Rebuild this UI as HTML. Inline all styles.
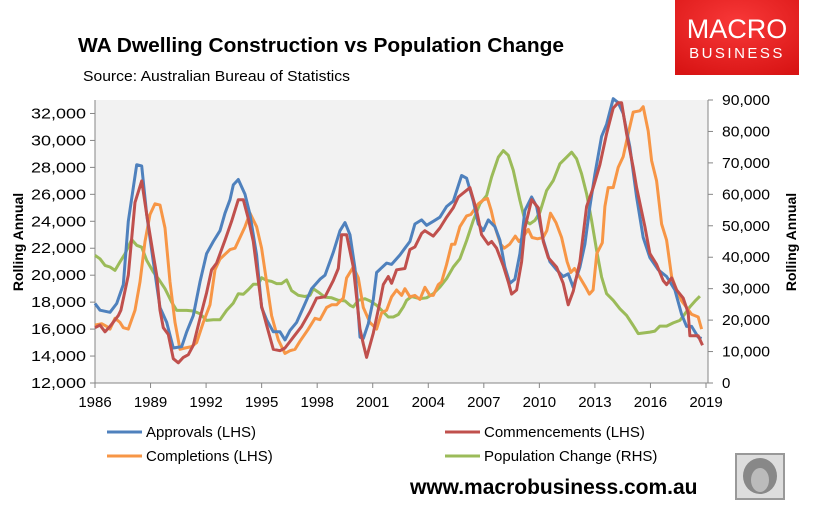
<!DOCTYPE html>
<html><head><meta charset="utf-8">
<style>
body{margin:0;background:#fff;width:819px;height:517px;overflow:hidden;font-family:"Liberation Sans",sans-serif;}
svg{position:absolute;left:0;top:0}
</style></head>
<body>
<svg id="chart" width="819" height="517" viewBox="0 0 819 517">
<text x="78" y="52" font-size="20.5" font-weight="bold" fill="#000" textLength="486" lengthAdjust="spacingAndGlyphs">WA Dwelling Construction vs Population Change</text>
<text x="83" y="81" font-size="14.5" fill="#000" textLength="267" lengthAdjust="spacingAndGlyphs">Source: Australian Bureau of Statistics</text>
<g>
<defs><radialGradient id="lg" cx="0.5" cy="0.3" r="0.8"><stop offset="0" stop-color="#f83838"/><stop offset="1" stop-color="#d81414"/></radialGradient></defs>
<rect x="675" y="0" width="124" height="75" fill="url(#lg)"/>
<text x="737" y="38" font-size="27" fill="#fff" text-anchor="middle">MACRO</text>
<text x="737" y="58" font-size="15" fill="#fff" text-anchor="middle" letter-spacing="2.5">BUSINESS</text>
</g>
<rect x="95" y="100" width="613" height="283" fill="#f2f2f2"/>
<g id="axes"></g>
<g id="series"></g>
<text transform="translate(23,242) rotate(-90)" font-size="14" font-weight="bold" text-anchor="middle">Rolling Annual</text>
<text transform="translate(796,242) rotate(-90)" font-size="14" font-weight="bold" text-anchor="middle">Rolling Annual</text>
<g id="legend"></g>
<text x="410" y="494" font-size="21" font-weight="bold" fill="#000">www.macrobusiness.com.au</text>
<g>
<rect x="736" y="454" width="48" height="45" fill="#ddd" stroke="#999" stroke-width="2"/>
<ellipse cx="760" cy="476" rx="17" ry="18" fill="#888"/>
<ellipse cx="760" cy="480" rx="9" ry="12" fill="#bbb"/>
</g>
</svg>
<script>
const NS="http://www.w3.org/2000/svg";
const leftTicks=[12000,14000,16000,18000,20000,22000,24000,26000,28000,30000,32000];
const rightTicks=[0,10000,20000,30000,40000,50000,60000,70000,80000,90000];
const xTicks=[1986,1989,1992,1995,1998,2001,2004,2007,2010,2013,2016,2019];
const approvalsYears=[1986,1986.27,1986.81,1987.17,1987.53,1987.8,1988.25,1988.52,1988.79,1989.15,1989.51,1989.87,1990.23,1990.68,1990.95,1991.31,1991.67,1992.03,1992.39,1992.75,1993.02,1993.29,1993.47,1993.74,1994.1,1994.37,1994.73,1995.0,1995.27,1995.63,1995.99,1996.26,1996.53,1996.89,1997.25,1997.7,1998.15,1998.42,1998.87,1999.23,1999.5,1999.77,2000.04,2000.31,2000.49,2000.76,2001.03,2001.21,2001.75,2002.02,2002.47,2002.74,2003.01,2003.28,2003.64,2003.91,2004.27,2004.63,2004.99,2005.35,2005.8,2006.07,2006.43,2006.7,2006.97,2007.24,2007.6,2007.87,2008.14,2008.41,2008.68,2008.95,2009.22,2009.58,2009.85,2010.21,2010.57,2010.93,2011.29,2011.56,2011.83,2012.19,2012.46,2012.73,2013.0,2013.36,2013.63,2013.99,2014.26,2014.53,2014.89,2015.25,2015.61,2015.97,2016.42,2016.87,2017.32,2017.68,2017.95,2018.22,2018.58,2018.76];
const approvalsValues=[17900,17400,17250,17900,19300,24000,28200,28100,24500,21000,17600,16500,14600,14700,15800,17000,19500,21600,22500,23300,24600,25600,26700,27100,26000,24500,21500,17600,16700,15800,15800,15200,15900,16500,17600,19000,19700,20000,21700,23300,23900,23000,20500,15400,15300,16400,18200,20200,20900,20800,21500,22000,22500,23800,24100,23700,24000,24300,25100,25500,27400,27200,25500,23800,23300,24100,23600,22600,20600,19400,19700,21600,24800,25800,25100,22600,21000,20400,19900,20100,19100,20600,22300,25100,27500,30300,31200,33100,32800,32000,29500,25800,22800,21300,20400,19900,18900,17100,16200,16200,15400,15300];
const commencementsYears=[1986,1986.27,1986.54,1986.81,1987.26,1987.4,1987.8,1988.16,1988.52,1988.79,1989.15,1989.33,1989.51,1989.69,1989.96,1990.23,1990.5,1990.77,1991.04,1991.31,1991.67,1992.03,1992.3,1992.57,1993.02,1993.38,1993.74,1994.01,1994.28,1994.55,1995.0,1995.27,1995.63,1995.99,1996.26,1996.71,1997.16,1997.61,1997.97,1998.42,1998.87,1999.14,1999.32,1999.59,1999.95,2000.31,2000.49,2000.67,2001.03,2001.39,2001.57,2001.84,2002.02,2002.29,2002.74,2003.01,2003.28,2003.64,2003.82,2004.27,2004.63,2004.99,2005.35,2005.62,2006.07,2006.25,2006.61,2006.88,2007.24,2007.42,2007.69,2008.05,2008.32,2008.5,2008.77,2009.04,2009.22,2009.58,2009.94,2010.21,2010.48,2010.93,2011.29,2011.56,2011.83,2012.19,2012.55,2012.91,2013.27,2013.63,2013.99,2014.26,2014.44,2014.71,2015.07,2015.25,2015.7,2015.97,2016.33,2016.69,2016.87,2017.14,2017.41,2017.77,2018.04,2018.13,2018.4,2018.58,2018.81];
const commencementsValues=[16100,16300,15800,16200,17000,17400,20000,25400,27000,24500,21500,20000,17400,16100,15600,13800,13500,13900,14100,14800,16800,18700,20400,20900,22600,24000,25600,25600,24200,22500,17700,16300,14500,14400,14600,15400,16200,17300,18300,18400,19600,20500,23000,23000,20600,16000,14900,13900,15700,18000,19300,19900,19400,20400,20500,21900,22100,23100,23300,22900,23500,24300,25000,25800,26300,26500,24800,23000,22300,22500,22000,20700,19500,18600,18900,21000,23500,25600,25000,22500,21300,20600,19400,17800,18800,21000,25100,26500,28200,30500,32400,32800,32800,30500,28000,26500,23600,21600,20800,19600,19300,19800,18900,18300,17200,15500,15500,15500,14800];
const completionsYears=[1986,1986.36,1986.63,1986.81,1987.08,1987.35,1987.53,1987.8,1988.16,1988.43,1988.7,1988.97,1989.24,1989.51,1989.78,1990.05,1990.32,1990.59,1990.86,1991.22,1991.49,1991.85,1992.21,1992.48,1992.75,1993.29,1993.56,1993.83,1994.1,1994.37,1994.73,1995.0,1995.27,1995.54,1995.9,1996.26,1996.53,1996.8,1997.07,1997.52,1997.88,1998.15,1998.51,1998.78,1999.05,1999.41,1999.59,1999.95,2000.22,2000.49,2000.85,2001.21,2001.48,2001.75,2002.02,2002.29,2002.56,2002.74,2003.01,2003.28,2003.55,2003.82,2004.09,2004.27,2004.54,2004.72,2004.99,2005.26,2005.44,2005.71,2006.07,2006.3,2006.7,2007.0,2007.2,2007.4,2007.6,2007.9,2008.1,2008.4,2008.7,2008.9,2009.1,2009.4,2009.6,2009.9,2010.2,2010.4,2010.6,2010.9,2011.2,2011.5,2011.7,2011.9,2012.2,2012.5,2012.7,2012.9,2013.1,2013.4,2013.54,2013.72,2013.99,2014.26,2014.53,2014.8,2015.07,2015.43,2015.61,2015.88,2016.06,2016.33,2016.6,2016.87,2017.14,2017.41,2017.68,2017.95,2018.22,2018.4,2018.58,2018.76];
const completionsValues=[16300,16400,16200,16000,16800,16500,16100,16000,17400,19500,22500,24500,25300,25200,23500,19500,16500,14500,14600,14700,15000,16500,17800,20400,21200,21900,22000,22800,23600,24600,23600,22000,19500,17000,15200,14200,14400,14500,15100,16000,16800,16700,17600,17800,17800,18300,19800,20600,19800,17600,16500,16000,17200,17400,18400,18900,18500,19000,18400,18500,18200,19100,18500,18500,19300,19500,20800,22300,22300,23600,24400,24500,25300,25600,25700,24800,23600,22300,22000,22300,22900,22500,22800,23400,22800,22700,22800,23300,24600,23900,22800,21000,20200,20500,19800,19100,18600,18900,21600,22400,25100,26500,26500,28000,28800,30500,32100,32200,32500,30700,28500,27000,23800,22600,19900,18900,18100,17600,17100,17000,16900,16000];
const populationYears=[1986,1986.27,1986.54,1986.81,1987.08,1987.35,1987.62,1987.98,1988.25,1988.52,1988.79,1989.15,1989.42,1989.78,1990.14,1990.41,1990.95,1991.31,1991.67,1992.03,1992.39,1992.75,1993.11,1993.47,1993.74,1994.01,1994.28,1994.55,1994.82,1995.0,1995.27,1995.54,1995.81,1996.08,1996.35,1996.62,1996.98,1997.34,1997.61,1997.79,1998.06,1998.42,1998.78,1999.14,1999.5,1999.77,1999.95,2000.22,2000.58,2000.85,2001.21,2001.57,2001.84,2002.11,2002.38,2002.65,2002.83,2003.1,2003.55,2003.91,2004.27,2004.63,2004.99,2005.35,2005.71,2006.07,2006.43,2006.79,2007.15,2007.42,2007.78,2008.05,2008.32,2008.59,2008.95,2009.22,2009.49,2009.76,2010.03,2010.39,2010.75,2011.11,2011.47,2011.74,2012.01,2012.28,2012.55,2012.82,2013.09,2013.36,2013.63,2013.99,2014.35,2014.71,2015.07,2015.34,2015.61,2015.97,2016.24,2016.51,2016.87,2017.23,2017.59,2017.86,2018.13,2018.4,2018.67];
const populationValues=[40600,39500,37400,36900,35800,38500,41100,45600,43800,43200,39000,35300,33200,30000,25700,23100,23100,22900,22000,19900,20100,20100,23100,25400,28400,28200,29700,31400,31400,33500,32600,32300,31600,31600,32800,29400,27900,27500,27900,30000,28900,27300,27100,26300,26100,24700,24200,26300,26800,26100,24700,22600,21000,21000,21800,24200,26300,27500,26800,27100,28400,30500,33200,36900,39500,45300,51700,57000,59600,65500,71800,73900,72400,67600,58100,51700,50600,51700,54300,61200,64400,69700,71800,73400,71300,66500,60200,51700,42200,33700,28400,26300,23600,21500,18300,15700,15900,16200,16500,18100,18100,19100,19900,22000,24200,26000,27600];

const X0=95,X1=706,YT=100,YB=383;
function xs(yr){return X0+(yr-1986)/(2019-1986)*(X1-X0);}
function yl(v){return YB-(v-12000)/21000*(YB-YT);}
function yr(v){return YB-v/90000*(YB-YT);}
function mk(tag,attrs,parent){const e=document.createElementNS(NS,tag);for(const k in attrs)e.setAttribute(k,attrs[k]);parent.appendChild(e);return e;}
const axes=document.getElementById('axes');
const fmt=v=>v.toLocaleString('en-US');
const la=mk('line',{x1:X0,y1:YT,x2:X0,y2:YB,stroke:'#868686','stroke-width':1},axes);


const ra=mk('line',{x1:708,y1:YT,x2:708,y2:YB,stroke:'#868686','stroke-width':1},axes);


const xa=mk('line',{x1:X0,y1:YB,x2:708,y2:YB,stroke:'#868686','stroke-width':1},axes);


leftTicks.forEach(v=>{const y=yl(v);
 mk('line',{x1:X0-5,y1:y,x2:X0,y2:y,stroke:'#868686'},axes);
 const t=mk('text',{x:X0-9,y:y+5,'font-size':15,'text-anchor':'end',fill:'#000',textLength:55,lengthAdjust:'spacingAndGlyphs'},axes);t.textContent=fmt(v);
 
 });
rightTicks.forEach(v=>{const y=yr(v);
 mk('line',{x1:708,y1:y,x2:713,y2:y,stroke:'#868686'},axes);
 const s=fmt(v);
 const attrs={x:722,y:y+5,'font-size':15,'text-anchor':'start',fill:'#000'};
 if(s.length>2){attrs.textLength=s.length===6?48:56;attrs.lengthAdjust='spacingAndGlyphs';}
 const t=mk('text',attrs,axes);t.textContent=s;
 
 });
xTicks.forEach(v=>{const x=xs(v);
 mk('line',{x1:x,y1:YB,x2:x,y2:YB+5,stroke:'#868686'},axes);
 const t=mk('text',{x:x,y:YB+24,'font-size':15,'text-anchor':'middle',fill:'#000'},axes);t.textContent=v;
 
 });
const ser=document.getElementById('series');
function line(years,vals,yf,color,name){
 const d=years.map((y,i)=>(i?'L':'M')+xs(y).toFixed(1)+' '+yf(vals[i]).toFixed(1)).join(' ');
 const p=mk('path',{d:d,fill:'none',stroke:color,'stroke-width':3,'stroke-linejoin':'round'},ser);
 
 
}
line(populationYears,populationValues,yr,'#9bbb59','population-change-line');
line(completionsYears,completionsValues,yl,'#f79646','completions-line');
line(approvalsYears,approvalsValues,yl,'#4f81bd','approvals-line');
line(commencementsYears,commencementsValues,yl,'#c0504d','commencements-line');
const leg=document.getElementById('legend');
const legendItems=[['Approvals (LHS)','#4f81bd',107,432],['Commencements (LHS)','#c0504d',445,432],['Completions (LHS)','#f79646',107,456],['Population Change (RHS)','#9bbb59',445,456]];
legendItems.forEach(it=>{
 const g=mk('g',{},leg);
 
 
 mk('line',{x1:it[2],y1:it[3],x2:it[2]+35,y2:it[3],stroke:it[1],'stroke-width':3},g);
 const t=mk('text',{x:it[2]+39,y:it[3]+5,'font-size':15,fill:'#000'},g);t.textContent=it[0];
});
</script>
</body></html>
